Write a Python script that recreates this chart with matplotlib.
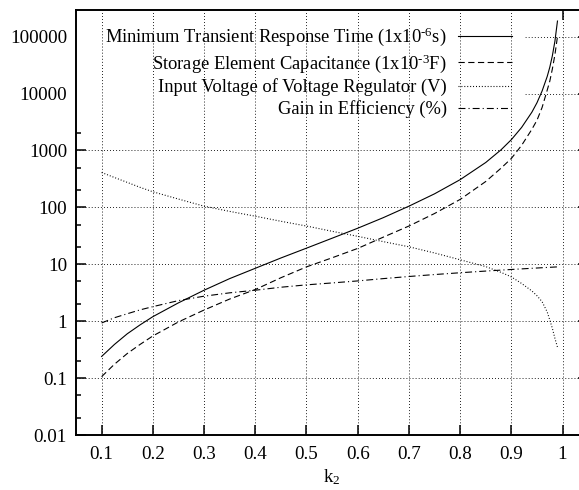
import matplotlib
matplotlib.use("Agg")
import matplotlib.pyplot as plt
from matplotlib.patches import Rectangle
from matplotlib.ticker import LogLocator, FuncFormatter, FixedLocator

plt.rcParams['font.family'] = ['Liberation Serif']
plt.rcParams['mathtext.fontset'] = 'custom'
plt.rcParams['mathtext.rm'] = 'Liberation Serif'
plt.rcParams['mathtext.it'] = 'Liberation Serif:italic'
plt.rcParams['font.size'] = 13.7
plt.rcParams['lines.scale_dashes'] = False

# k2 values (x axis)
k2 = [0.10, 0.125, 0.15, 0.175, 0.20, 0.25, 0.30, 0.35, 0.40, 0.45, 0.50, 0.55, 0.60, 0.65,
      0.70, 0.75, 0.80, 0.85, 0.88, 0.90, 0.92, 0.94, 0.95, 0.96, 0.97, 0.975,
      0.98, 0.985, 0.99]

tiempo_respuesta = [0.24, 0.39, 0.60, 0.86, 1.2, 2.1, 3.5, 5.6, 8.5, 12.9, 19.2, 28.7, 43, 66,
                    105, 173, 307, 615, 1030, 1550, 2540, 4700, 6900, 11100, 20000, 29000,
                    46000, 83000, 188000]

capacitancia = [0.106, 0.175, 0.27, 0.39, 0.55, 0.97, 1.57, 2.45, 3.6, 5.8, 9.0, 13, 19, 30,
                47, 78, 138, 285, 490, 725, 1230, 2350, 3400, 5700, 11500, 16500,
                27000, 48000, 100000]

voltaje = [410, 335, 275, 225, 188, 140, 105, 85, 70, 57, 47, 38, 31, 25,
           20.3, 15.8, 12, 9.1, 7.2, 6.0, 4.6, 3.4, 2.8, 2.2, 1.45, 1.05,
           0.75, 0.5, 0.35]

ganancia = [0.93, 1.15, 1.35, 1.58, 1.8, 2.3, 2.75, 3.15, 3.5, 3.95, 4.35, 4.7, 5.1, 5.6,
            6.1, 6.6, 7.1, 7.6, 7.9, 8.1, 8.3, 8.5, 8.6, 8.7, 8.8, 8.85,
            8.9, 8.95, 9.0]

etiquetas = [r"Minimum Transient Response Time (1x10$^{\text{-6}}$s)",
             r"Storage Element Capacitance (1x10$^{\text{-3}}$F)",
             "Input Voltage of Voltage Regulator (V)",
             "Gain in Efficiency (%)"]

xticks = [0.1, 0.2, 0.3, 0.4, 0.5, 0.6, 0.7, 0.8, 0.9, 1.0]
yticks = [0.01, 0.1, 1, 10, 100, 1000, 10000, 100000]


def main():
    fig = plt.figure(figsize=(5.79, 4.9), dpi=100)
    ax = fig.add_axes([76 / 579, 55 / 490, 512.2 / 579, 425 / 490])

    lw = 0.8
    ax.plot(k2, tiempo_respuesta, color='black', lw=lw, label=etiquetas[0], zorder=3)
    ax.plot(k2, capacitancia, color='black', lw=lw, dashes=(4.5, 2.5), label=etiquetas[1], zorder=3)
    ax.plot(k2, voltaje, color='black', lw=lw, dashes=(0.7, 1.4), label=etiquetas[2], zorder=3)
    ax.plot(k2, ganancia, color='black', lw=lw, dashes=(5, 2.2, 0.8, 2.2), label=etiquetas[3], zorder=3)

    ax.set_yscale('log')
    ax.set_xlim(0.05, 1.05)
    ax.set_ylim(0.01, 2.94e5)

    ax.xaxis.set_major_locator(FixedLocator(xticks))
    ax.xaxis.set_major_formatter(FuncFormatter(lambda v, p: "%g" % v))
    ax.yaxis.set_major_locator(FixedLocator(yticks))
    ax.yaxis.set_minor_locator(LogLocator(base=10, subs=(2, 5), numticks=20))
    ax.yaxis.set_major_formatter(FuncFormatter(lambda v, p: "%g" % v))

    ax.tick_params(which='both', direction='in', top=True, right=True, width=1.1, color='black')
    ax.tick_params(which='major', length=7.2)
    ax.tick_params(which='minor', length=3.6)
    ax.tick_params(axis='y', pad=6.5)
    ax.tick_params(axis='x', pad=8)
    for s in ax.spines.values():
        s.set_linewidth(1.4)

    # rejilla horizontal por debajo de la leyenda, vertical por encima
    ax.set_axisbelow(True)
    ax.grid(axis='y', which='major', color='black', lw=0.7, dashes=(0.6, 1.6))
    for xv in xticks:
        ax.axvline(xv, color='black', lw=0.7, dashes=(0.6, 1.6), zorder=1.5)
    ax.add_patch(Rectangle((0, 0.73), 0.875, 0.27, transform=ax.transAxes,
                           facecolor='white', edgecolor='none', zorder=1))

    ax.legend(loc='upper right', bbox_to_anchor=(0.851, 0.963), frameon=False,
              markerfirst=False, handlelength=2.9, handletextpad=0.62,
              labelspacing=0.21, borderpad=0, borderaxespad=0, fontsize=13.3)

    ax.set_xlabel("k$_2$", labelpad=3)

    fig.savefig("out.png", dpi=100)


if __name__ == "__main__":
    main()
